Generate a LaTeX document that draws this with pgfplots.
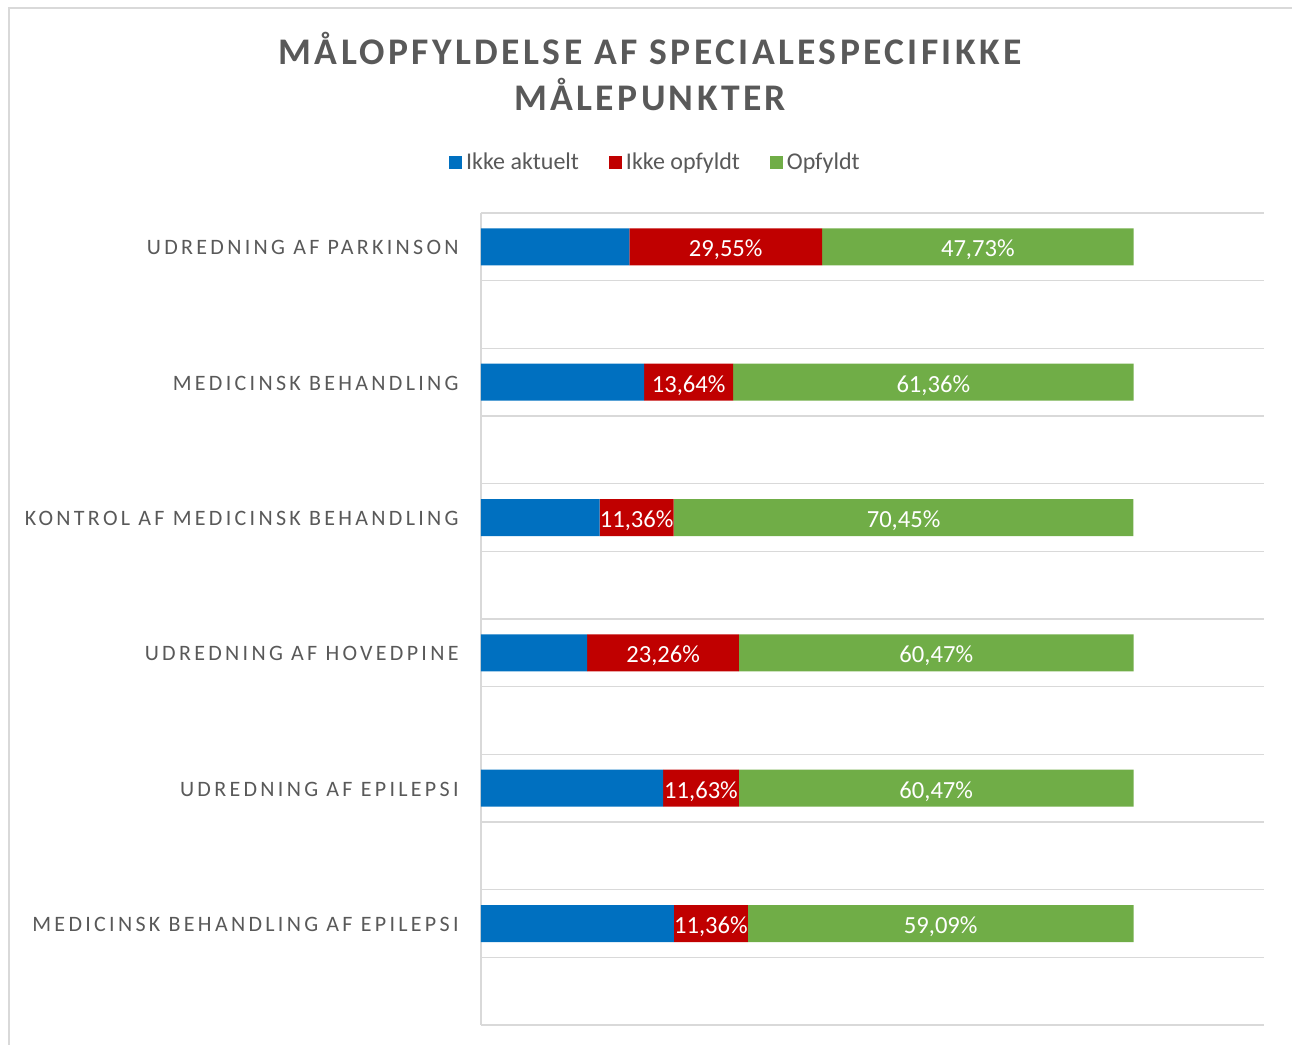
\documentclass[border=0pt]{standalone}
\usepackage{fontspec}
\setmainfont{Carlito}
\newfontfamily\spaced[LetterSpace=15]{Carlito}
\newfontfamily\titlefont[LetterSpace=9]{Carlito}
\usepackage{pgfplots}
\usepackage{pgfplotstable}
\pgfplotsset{compat=1.18}
\definecolor{cblue}{HTML}{0070C0}
\definecolor{cred}{HTML}{C00000}
\definecolor{cgreen}{HTML}{70AD47}
\definecolor{ctext}{HTML}{595959}
\definecolor{cgrid}{HTML}{D9D9D9}

\pgfplotstableread{
y v lab
0.5 22.73 x
2.5 25.00 x
4.5 18.18 x
6.5 16.28 x
8.5 27.90 x
10.5 29.55 x
}\tblue
\pgfplotstableread{
y v lab
0.5 29.55 29,55
2.5 13.64 13,64
4.5 11.36 11,36
6.5 23.26 23,26
8.5 11.63 11,63
10.5 11.36 11,36
}\tred
\pgfplotstableread{
y v lab
0.5 47.73 47,73
2.5 61.36 61,36
4.5 70.45 70,45
6.5 60.47 60,47
8.5 60.47 60,47
10.5 59.09 59,09
}\tgreen

\begin{document}
\begin{tikzpicture}
\useasboundingbox (0,0) rectangle (646pt,-522.5pt);
\draw[cgrid, line width=0.8pt] (4.5pt,-522.5pt) -- (4.5pt,-4pt) -- (646pt,-4pt);
\begin{axis}[
  at={(240.5pt,-512.5pt)}, anchor=south west,
  scale only axis, width=391.5pt, height=406pt,
  xbar stacked, bar width=18.5pt,
  xmin=0, xmax=120, ymin=0, ymax=12, y dir=reverse,
  axis x line=none, axis y line*=left,
  y axis line style={cgrid, line width=0.8pt, -},
  xtick=\empty,
  ytick={0.5,2.5,4.5,6.5,8.5,10.5},
  yticklabels={UDREDNING AF PARKINSON, MEDICINSK BEHANDLING, KONTROL AF MEDICINSK BEHANDLING, UDREDNING AF HOVEDPINE, UDREDNING AF EPILEPSI, MEDICINSK BEHANDLING AF EPILEPSI},
  yticklabel style={anchor=east, inner sep=0pt, xshift=-11pt, yshift=-0.5pt, font=\spaced\fontsize{11}{13}\selectfont, text=ctext},
  major tick length=0pt,
  minor ytick={0,1,...,12},
  minor tick length=0pt,
  minor grid style={cgrid, line width=0.8pt},
  ymajorgrids=false, yminorgrids=true,
  title={MÅLOPFYLDELSE AF SPECIALESPECIFIKKE\\MÅLEPUNKTER},
  title style={at={(0.216,1.159)}, anchor=center, align=center, text=ctext, font=\titlefont\bfseries\fontsize{18.8}{23}\selectfont},
  legend columns=3,
  legend style={at={(0.224,1.062)}, anchor=center, draw=none, font=\fontsize{12}{14}\selectfont, text=ctext,
    /tikz/every even column/.append style={column sep=13pt}},
  legend image code/.code={\fill[#1] (-1.5pt,-3.25pt) rectangle (5pt,3.25pt);},
]
\addplot[fill=cblue, draw=none] table[x=v, y=y] {\tblue};
\addplot[fill=cred, draw=none,
  nodes near coords={\pgfplotspointmeta\%}, point meta=explicit symbolic,
  every node near coord/.append style={anchor=center, yshift=-1.5pt, text=white, font=\fontsize{12.3}{14}\selectfont}]
  table[x=v, y=y, meta=lab] {\tred};
\addplot[fill=cgreen, draw=none,
  nodes near coords={\pgfplotspointmeta\%}, point meta=explicit symbolic,
  every node near coord/.append style={anchor=center, yshift=-1.5pt, text=white, font=\fontsize{12.3}{14}\selectfont}]
  table[x=v, y=y, meta=lab] {\tgreen};
\legend{Ikke aktuelt, Ikke opfyldt, Opfyldt}
\end{axis}
\end{tikzpicture}
\end{document}
